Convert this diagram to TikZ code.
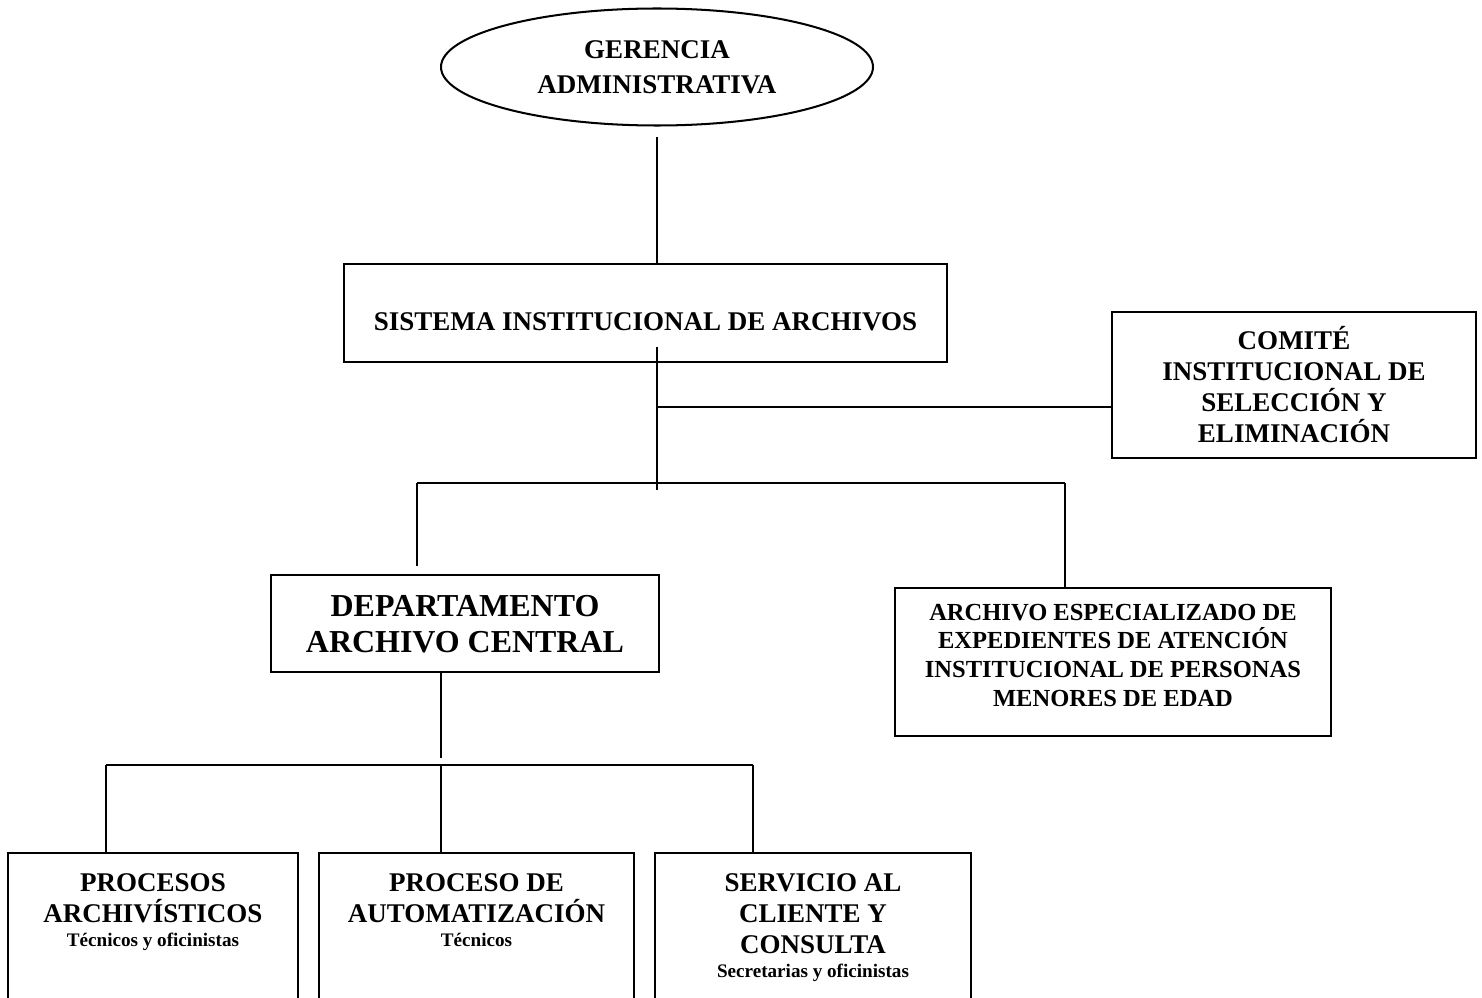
\documentclass[tikz,border=0pt]{standalone}
\usepackage{fontspec}
\setmainfont{Liberation Serif}
\usetikzlibrary{shapes.geometric}
\newdimen\PX \PX=0.4444pt
% #1 width px, #2 height px, #3 first baseline below top px, #4 text
\newcommand{\boxtext}[4]{\parbox[c][#2\PX][t]{#1\PX}{\centering\rule{0pt}{#3\PX}#4\par}}
\newcommand{\subline}[1]{{\fontsize{8.5}{11}\selectfont #1\par}}
\begin{document}
\begin{tikzpicture}[x=0.4444pt,y=-0.4444pt,
  box/.style={draw, rectangle, inner sep=0pt, line width=1.1pt},
  conn/.style={line width=0.9pt},
  fA/.style={font=\bfseries\fontsize{12}{14.7}\selectfont},
  fE/.style={font=\bfseries\fontsize{12}{13.8}\selectfont},
  fB/.style={font=\bfseries\fontsize{14.2}{16}\selectfont},
  fC/.style={font=\bfseries\fontsize{10.9}{12.75}\selectfont},
  fD/.style={font=\bfseries\fontsize{12}{13.8}\selectfont}]
\useasboundingbox (0,0) rectangle (1482,998);
\clip (0,0) rectangle (1482,998);

% nodes
\node[draw, ellipse, line width=0.9pt, minimum width=432*\PX, minimum height=117*\PX,
      inner sep=0pt, align=center, fA] (ger) at (657,67) {GERENCIA\\[1pt]ADMINISTRATIVA};
\node[box, fA] (sia) at (645.5,313) {\boxtext{603}{98}{67}{SISTEMA INSTITUCIONAL DE ARCHIVOS}};
\node[box, fE] (com) at (1294,385) {\boxtext{364}{146}{37}{COMITÉ\\INSTITUCIONAL DE\\SELECCIÓN Y\\ELIMINACIÓN}};
\node[box, fB] (dept) at (465,623.5) {\boxtext{388}{97}{41}{DEPARTAMENTO\\ARCHIVO CENTRAL}};
\node[box, fC] (arch) at (1113,662) {\boxtext{436}{148}{32}{ARCHIVO ESPECIALIZADO DE\\EXPEDIENTES DE ATENCIÓN\\INSTITUCIONAL DE PERSONAS\\MENORES DE EDAD}};
\node[box, fD] (p1) at (153,931.5) {\boxtext{290}{157}{38}{PROCESOS\\ARCHIVÍSTICOS\par\subline{Técnicos y oficinistas}}};
\node[box, fD] (p2) at (476.5,931.5) {\boxtext{315}{157}{38}{PROCESO DE\\AUTOMATIZACIÓN\par\subline{Técnicos}}};
\node[box, fD] (p3) at (813,931.5) {\boxtext{316}{157}{38}{SERVICIO AL\\CLIENTE Y\\CONSULTA\par\subline{Secretarias y oficinistas}}};

% junction coordinates
\coordinate (tTop) at (657,347);
\coordinate (tBot) at (657,490);
\coordinate (jC) at (657,407);
\coordinate (bL) at (417,483);
\coordinate (bR) at (1065,483);
\coordinate (dEnd) at (441,758);
\coordinate (hL) at (106,765);
\coordinate (hM) at (441,765);
\coordinate (hR) at (753,765);

% connectors
\draw[conn] ([yshift=-10*\PX]ger.south) -- (ger.south |- sia.north);
\draw[conn] (tTop) -- (tBot);
\draw[conn] (jC) -- (jC -| com.west);
\draw[conn] (bL) -- (bR);
\draw[conn, shorten >=8*\PX] (bL) -- (bL |- dept.north);
\draw[conn] (bR) -- (bR |- arch.north);
\draw[conn] (dept.south -| dEnd) -- (dEnd);
\draw[conn] (hL) -- (hR);
\draw[conn] (hL) -- (hL |- p1.north);
\draw[conn] (hM) -- (hM |- p2.north);
\draw[conn] (hR) -- (hR |- p3.north);
\end{tikzpicture}
\end{document}
